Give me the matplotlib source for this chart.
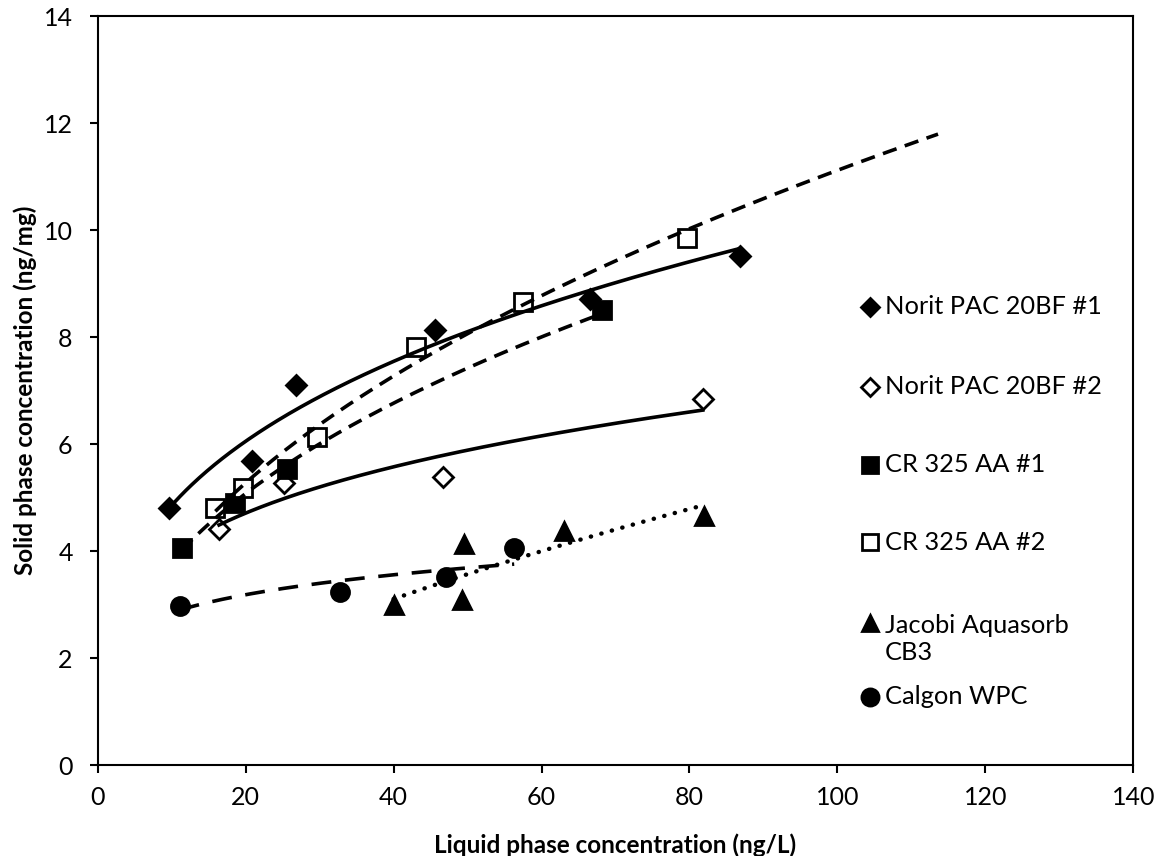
import numpy as np
import matplotlib
matplotlib.use("Agg")
import matplotlib.pyplot as plt
from matplotlib.lines import Line2D

plt.rcParams['font.family'] = ['Lato', 'DejaVu Sans']

# values (x in ng/L, y in ng/mg)
norit1_x = [9.6, 20.8, 26.8, 45.6, 66.5, 86.8]
norit1_y = [4.81, 5.69, 7.11, 8.14, 8.71, 9.52]
norit2_x = [16.4, 25.2, 46.7, 81.8]
norit2_y = [4.41, 5.28, 5.38, 6.85]
cr1_x = [11.4, 18.5, 25.6, 68.2]
cr1_y = [4.06, 4.90, 5.54, 8.50]
cr2_x = [15.9, 19.7, 29.6, 43.0, 57.5, 79.6]
cr2_y = [4.81, 5.17, 6.13, 7.81, 8.66, 9.85]
jacobi_x = [40.0, 49.3, 49.5, 63.1, 82.0]
jacobi_y = [3.00, 3.09, 4.13, 4.38, 4.65]
calgon_x = [11.1, 32.8, 47.1, 56.3]
calgon_y = [2.97, 3.24, 3.51, 4.05]

labels = ["Norit PAC 20BF #1", "Norit PAC 20BF #2", "CR 325 AA #1",
          "CR 325 AA #2", "Jacobi Aquasorb\nCB3", "Calgon WPC"]

# the CR 325 AA #2 trendline is extended forward in the original
cr2_forward = 34

LW = 2.6
dash = (0, (4.0, 2.4))
long_dash = (0, (5.5, 3.8))
dots = (0, (0.05, 2.4))

# marker, face, size, trend style, forward
series = [
    (norit1_x, norit1_y, 'D', 'black', 10, '-', 0),
    (norit2_x, norit2_y, 'D', 'white', 10, '-', 0),
    (cr1_x, cr1_y, 's', 'black', 12.5, dash, 0),
    (cr2_x, cr2_y, 's', 'white', 12.5, dash, cr2_forward),
    (jacobi_x, jacobi_y, '^', 'black', 12.5, dots, 0),
    (calgon_x, calgon_y, 'o', 'black', 13, long_dash, 0),
]


def power_fit(x, y, forward=0):
    # same as an excel power trendline: straight line in log-log space
    b, ln_a = np.polyfit(np.log(x), np.log(y), 1)
    xs = np.linspace(min(x), max(x) + forward, 300)
    return xs, np.exp(ln_a) * xs ** b


fig = plt.figure(figsize=(11.65, 8.56), dpi=100)
ax = fig.add_axes([0.0839, 0.1063, 0.8889, 0.875])

for x, y, mk, face, ms, ls, fwd in series:
    ax.plot(x, y, linestyle='none', marker=mk, markersize=ms,
            markerfacecolor=face, markeredgecolor='black',
            markeredgewidth=2, zorder=2, clip_on=False)
    tx, ty = power_fit(x, y, fwd)
    line, = ax.plot(tx, ty, color='black', linewidth=LW, linestyle=ls, zorder=3)
    if ls is dots:
        # round dots, a touch heavier like the original
        line.set_dash_capstyle('round')
        line.set_linewidth(3.2)

ax.set_xlim(0, 140)
ax.set_ylim(0, 14)
ax.set_xticks(np.arange(0, 141, 20))
ax.set_yticks(np.arange(0, 15, 2))
for s in ax.spines.values():
    s.set_linewidth(1.5)
ax.tick_params(direction='out', length=6, width=1.5, labelsize=18)
ax.tick_params(axis='x', pad=9)
ax.tick_params(axis='y', pad=12)

ax.set_xlabel("Liquid phase concentration (ng/L)", fontsize=17.5,
              fontweight='bold', va='center')
ax.xaxis.set_label_coords(0.5, -0.107)
ax.set_ylabel("Solid phase concentration (ng/mg)", fontsize=17.5,
              fontweight='bold', va='center')
ax.yaxis.set_label_coords(-0.0702, 0.5)

# legend drawn by hand so the entries sit where the original has them
W, H = 1165, 856
leg_marker_y = [307, 387, 465, 542, 623, 697]
leg_text_y = [307, 387, 465, 542, 639, 697]
for (x, y, mk, face, ms, ls, fwd), lab, my, ty in zip(series, labels,
                                                    leg_marker_y, leg_text_y):
    fig.add_artist(Line2D([870 / W], [1 - my / H], transform=fig.transFigure,
                          linestyle='none', marker=mk, markersize=ms * 0.95,
                          markerfacecolor=face, markeredgecolor='black',
                          markeredgewidth=2))
    fig.text(885 / W, 1 - ty / H, lab, fontsize=18.3, va='center', ha='left',
             linespacing=1.25)

fig.savefig("out.png", dpi=100)
